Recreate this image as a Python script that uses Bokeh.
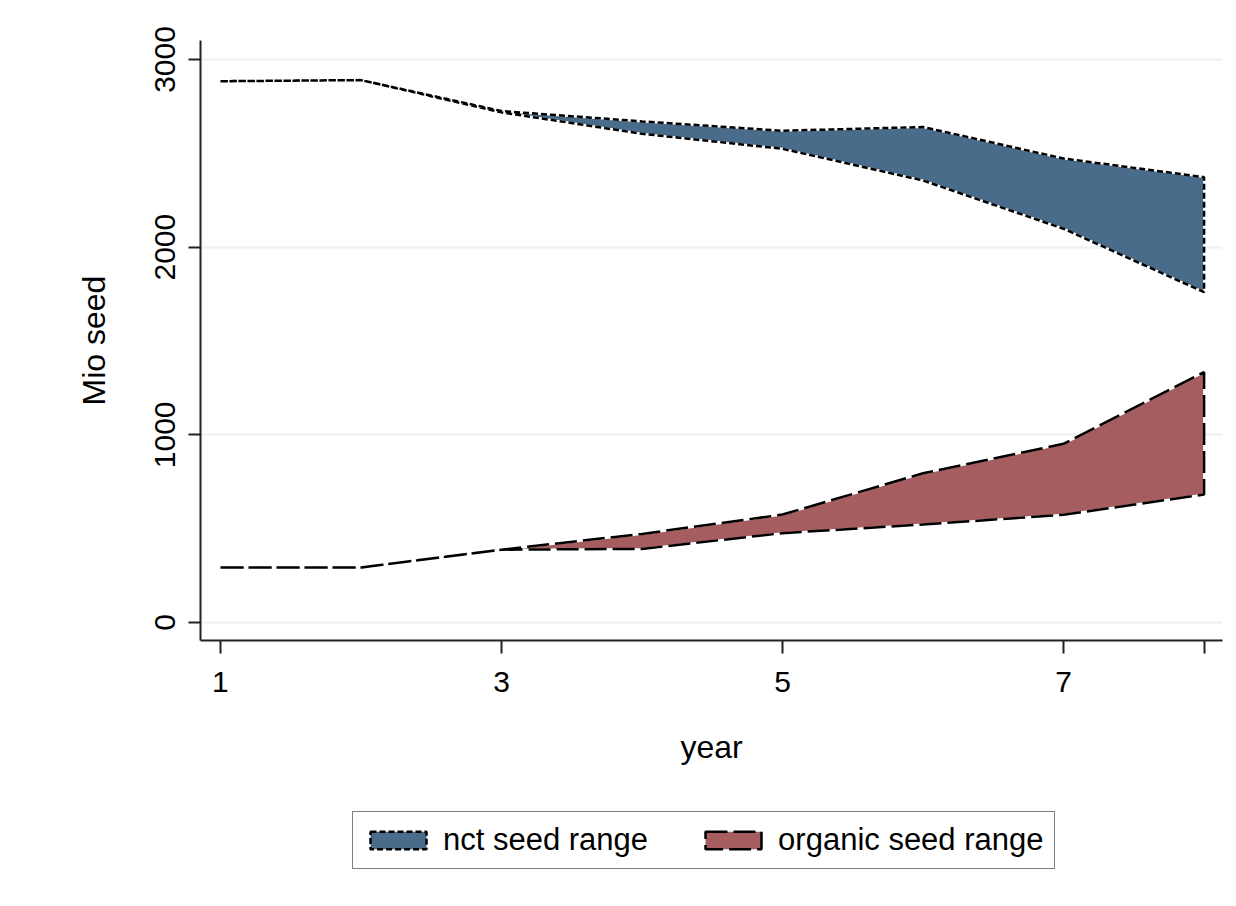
from bokeh.plotting import figure
from bokeh.layouts import column
from bokeh.models import Legend, LegendItem, FixedTicker, Range1d
from bokeh.embed import file_html
from bokeh.resources import INLINE

# ---- data ----
years = [1, 2, 3, 4, 5, 6, 7, 8]
nct_upper = [2884, 2890, 2725, 2670, 2620, 2640, 2472, 2373]
nct_lower = [2884, 2890, 2718, 2604, 2524, 2355, 2098, 1760]
org_upper = [293, 293, 388, 472, 575, 795, 952, 1334]
org_lower = [293, 293, 388, 392, 476, 522, 574, 682]
x_ticks = [1, 3, 5, 7, 8]
x_tick_labels = {1: "1", 3: "3", 5: "5", 7: "7", 8: ""}
y_ticks = [0, 1000, 2000, 3000]
series_names = ["nct seed range", "organic seed range"]
colors = ["#496c8b", "#a65d60"]
dashes = ["6 3", "22 6"]

FONT = "Liberation Sans"
W = 1228

p = figure(width=W, height=790,
           x_range=Range1d(0.858, 8.131), y_range=Range1d(-96, 3101),
           output_backend="svg", toolbar_location=None,
           min_border_left=200, min_border_right=6,
           min_border_top=40, min_border_bottom=150)
p.outline_line_color = None
p.background_fill_color = "white"
p.border_fill_color = "white"

p.xgrid.visible = False
p.ygrid.ticker = FixedTicker(ticks=y_ticks)
p.ygrid.grid_line_color = "#eaf2f3"
p.ygrid.grid_line_width = 2


def outline(xs, up, lo):
    px = list(xs) + list(xs)[::-1] + [xs[0]]
    py = list(up) + list(lo)[::-1] + [up[0]]
    return px, py


series = [(nct_upper, nct_lower), (org_upper, org_lower)]
for (up, lo), color, dash in zip(series, colors, dashes):
    px, py = outline(years, up, lo)
    p.patch(px[:-1], py[:-1], fill_color=color, line_color=None)
    p.line(px, py, line_color="white", line_width=2)
    p.line(px, py, line_color="black", line_width=2.5, line_dash=dash)

# axes
for ax in (p.xaxis[0], p.yaxis[0]):
    ax.axis_line_color = "#222222"
    ax.axis_line_width = 2
    ax.major_tick_line_color = "#222222"
    ax.major_tick_line_width = 2
    ax.major_tick_in = 0
    ax.minor_tick_line_color = None
    ax.major_label_text_font = FONT
    ax.major_label_text_font_size = "30px"
    ax.major_label_text_color = "black"
    ax.axis_label_text_font = FONT
    ax.axis_label_text_font_size = "32px"
    ax.axis_label_text_font_style = "normal"
    ax.axis_label_text_color = "black"

p.xaxis.ticker = FixedTicker(ticks=x_ticks)
p.xaxis.major_label_overrides = x_tick_labels
p.xaxis.major_tick_out = 13
p.xaxis.major_label_standoff = 18
p.xaxis.axis_label = "year"
p.xaxis.axis_label_standoff = 34

p.yaxis.ticker = FixedTicker(ticks=y_ticks)
p.yaxis.major_tick_out = 12
p.yaxis.major_label_standoff = 13
p.yaxis.major_label_orientation = "vertical"
p.yaxis.axis_label = "Mio seed"
p.yaxis.axis_label_standoff = 41

# ---- legend strip (frame aligned with the main plot) ----
q = figure(width=W, height=100, output_backend="svg", toolbar_location=None,
           x_range=Range1d(-1, 0), y_range=Range1d(-1, 0),
           min_border_left=0, min_border_right=0, min_border_top=0, min_border_bottom=0)
q.axis.visible = False
q.grid.visible = False
q.outline_line_color = None
q.border_fill_color = "white"
q.background_fill_color = "white"

items = []
for (up, lo), name, color, dash in zip(series, series_names, colors, dashes):
    px, py = outline(years, up, lo)
    r = q.patch(px[:-1], py[:-1], fill_color=color, line_color="black",
                line_width=2.5, line_dash=dash)
    items.append(LegendItem(label=name, renderers=[r]))

legend = Legend(items=items, orientation="horizontal", location=(152, 21))
legend.border_line_color = "black"
legend.border_line_width = 1.5
legend.background_fill_color = "white"
legend.background_fill_alpha = 1
legend.padding = 10
legend.margin = 0
legend.spacing = 50
legend.label_standoff = 10
legend.glyph_width = 70
legend.glyph_height = 22
legend.label_text_font = FONT
legend.label_text_font_size = "31px"
legend.label_text_color = "black"
q.add_layout(legend, "center")

open("out.html", "w").write(file_html(column(p, q), INLINE))
